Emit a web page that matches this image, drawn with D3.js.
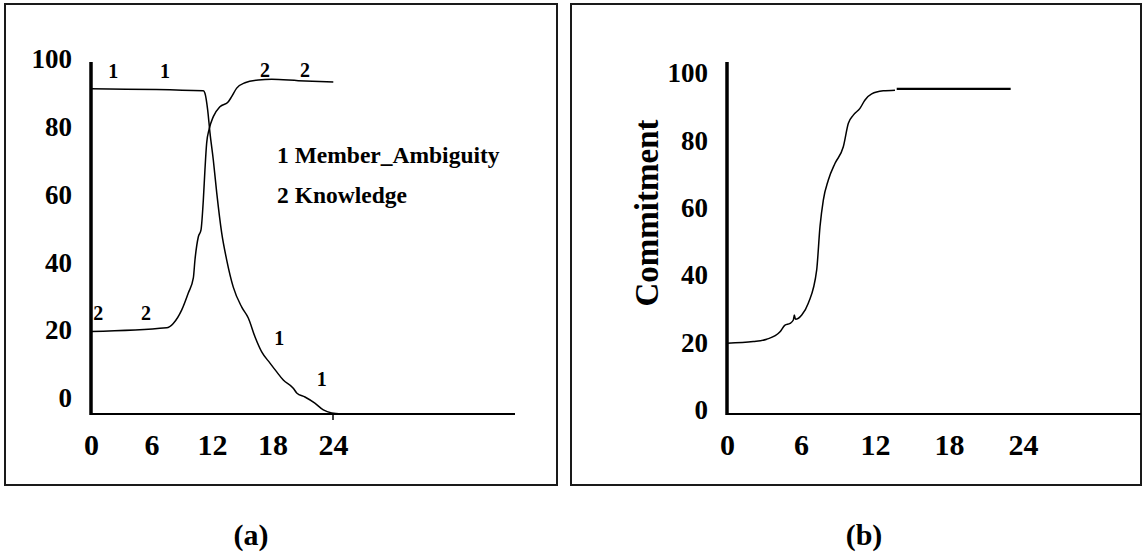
<!DOCTYPE html>
<html>
<head>
<meta charset="utf-8">
<script src="https://d3js.org/d3.v7.min.js"></script>
<style>
  body { margin: 0; background: #fff; }
  svg text { font-family: "Liberation Serif", "Times New Roman", serif; font-weight: bold; fill: #000; }
</style>
</head>
<body>
<svg id="chart"></svg>
<script>
// tick labels
var months = [0, 6, 12, 18, 24]
var valueTicks = [0, 20, 40, 60, 80, 100]

// panel (a): [month, value]
var memberAmbiguity = [
  [0, 91.2], [11.14, 90.6], [11.3, 89.9], [11.57, 85.0], [11.8, 78.2], [12.13, 70.2],
  [12.47, 60.5], [12.96, 48.7], [13.46, 40.7], [14.11, 32.7], [14.95, 26.8], [15.6, 23.6],
  [16.27, 18.0], [16.93, 13.6], [17.75, 10.3], [18.42, 7.7], [19.07, 5.3], [20.06, 2.9],
  [20.4, 1.5], [21.22, 0.3], [22.2, -1.5], [23.04, -3.5], [23.87, -4.4], [24.86, -4.7]
]
var knowledge = [
  [0, 19.6], [7.5, 20.7], [8.16, 22.0], [9.0, 26.0], [9.65, 31.0], [10.15, 35.4],
  [10.31, 40.7], [10.64, 47.5], [10.91, 49.6], [11.14, 58.4], [11.3, 67.3], [11.47, 75.2],
  [11.7, 79.1], [12.13, 83.0], [12.79, 85.9], [13.62, 87.4], [13.95, 88.9], [14.45, 91.4],
  [15.27, 93.0], [16.59, 93.8], [17.92, 94.0], [20.56, 93.6], [24.03, 93.2]
]
// curve number markers
var ambiguityMarks = [[2.21, 96.3], [7.34, 96.3], [18.67, 17.6], [22.88, 5.5]]
var knowledgeMarks = [[0.72, 25.0], [5.45, 25.0], [17.26, 96.8], [21.22, 96.8]]
var legendItems = ["1 Member_Ambiguity", "2 Knowledge"]

// panel (b)
var commitment = [
  [0, 19.8], [2.13, 20.3], [3.22, 21.0], [4.3, 23.2], [4.7, 25.2], [5.11, 25.7],
  [5.38, 26.7], [5.46, 28.2], [5.55, 26.9], [6.06, 28.2], [6.59, 31.7], [7.27, 41.5],
  [7.54, 54.4], [7.81, 62.3], [8.21, 68.2], [8.76, 73.2], [9.43, 78.1], [9.84, 85.1],
  [10.24, 87.5], [10.78, 89.5], [11.19, 92.0], [11.73, 93.8], [12.67, 94.7], [13.62, 94.9]
]
var commitmentTail = [[13.76, 95.3], [23.0, 95.3]]

var width = 1144
var height = 552

const svg = d3.select("#chart")
  .attr("width", width)
  .attr("height", height)

svg.append("rect").attr("width", width).attr("height", height).attr("fill", "#fff")

function drawPanel(opt){
  const g = svg.append("g")

  g.append("rect")
    .attr("x", opt.box[0]).attr("y", opt.box[1])
    .attr("width", opt.box[2]).attr("height", opt.box[3])
    .attr("fill", "none").attr("stroke", "#1a1a1a").attr("stroke-width", 2)

  const x = d3.scaleLinear().domain([0, 24]).range(opt.xRange)
  const y = d3.scaleLinear().domain([0, 100]).range(opt.yRange)

  // y tick labels
  const yAxis = g.append("g")
    .attr("transform", "translate(" + opt.xRange[0] + ",0)")
    .call(d3.axisLeft(y).tickValues(valueTicks).tickSize(0).tickPadding(19))
  yAxis.select(".domain").remove()
  yAxis.selectAll("text").style("font-size", "27px")

  // x tick labels
  const xAxis = g.append("g")
    .attr("transform", "translate(0," + opt.floor + ")")
    .call(d3.axisBottom(x).tickValues(months).tickSize(0).tickPadding(20))
  xAxis.select(".domain").remove()
  xAxis.selectAll("text").style("font-size", "30px")

  // axis lines
  g.append("line")
    .attr("x1", opt.xRange[0]).attr("x2", opt.xRange[0])
    .attr("y1", opt.top).attr("y2", opt.floor + 1)
    .attr("stroke", "#000").attr("stroke-width", 3.5)
  g.append("line")
    .attr("x1", opt.xRange[0] - 1).attr("x2", opt.right)
    .attr("y1", opt.floor).attr("y2", opt.floor)
    .attr("stroke", "#000").attr("stroke-width", 2)

  const line = d3.line()
    .x(d => x(d[0]))
    .y(d => y(d[1]))
    .curve(d3.curveMonotoneX)

  opt.series.forEach(function(s){
    g.append("path")
      .datum(s.data)
      .attr("d", line)
      .attr("fill", "none")
      .attr("stroke", "#000")
      .attr("stroke-width", s.w || 1.5)
  })

  return {g: g, x: x, y: y}
}

// (a)
const pa = drawPanel({
  box: [5, 4, 552, 481],
  xRange: [91, 333],
  yRange: [398, 59],
  top: 62,
  floor: 414,
  right: 515,
  series: [{data: memberAmbiguity}, {data: knowledge}]
})

pa.g.append("line")
  .attr("x1", pa.x(24)).attr("x2", pa.x(24))
  .attr("y1", 414).attr("y2", 420)
  .attr("stroke", "#000").attr("stroke-width", 1.5)

function addMarks(p, marks, label){
  p.g.selectAll(null)
    .data(marks)
    .enter()
    .append("text")
    .attr("x", d => p.x(d[0]))
    .attr("y", d => p.y(d[1]))
    .attr("dy", "0.34em")
    .attr("text-anchor", "middle")
    .style("font-size", "20px")
    .text(label)
}
addMarks(pa, ambiguityMarks, "1")
addMarks(pa, knowledgeMarks, "2")

pa.g.selectAll(".legend")
  .data(legendItems)
  .enter()
  .append("text")
  .attr("class", "legend")
  .attr("x", 277)
  .attr("y", (d, i) => 163 + i * 40)
  .style("font-size", "23.5px")
  .text(d => d)

// (b)
const pb = drawPanel({
  box: [571, 4, 570, 481],
  xRange: [727, 1023],
  yRange: [410, 73],
  top: 62,
  floor: 414,
  right: 1141,
  series: [{data: commitment}, {data: commitmentTail, w: 2.2}]
})

pb.g.append("text")
  .attr("transform", "translate(646,213) rotate(-90)")
  .attr("text-anchor", "middle")
  .attr("dy", "0.35em")
  .style("font-size", "33px")
  .text("Commitment")

// captions
svg.selectAll(".caption")
  .data(["(a)", "(b)"])
  .enter()
  .append("text")
  .attr("class", "caption")
  .attr("x", (d, i) => i === 0 ? 251 : 864)
  .attr("y", 545)
  .attr("text-anchor", "middle")
  .style("font-size", "30px")
  .text(d => d)
</script>
</body>
</html>
